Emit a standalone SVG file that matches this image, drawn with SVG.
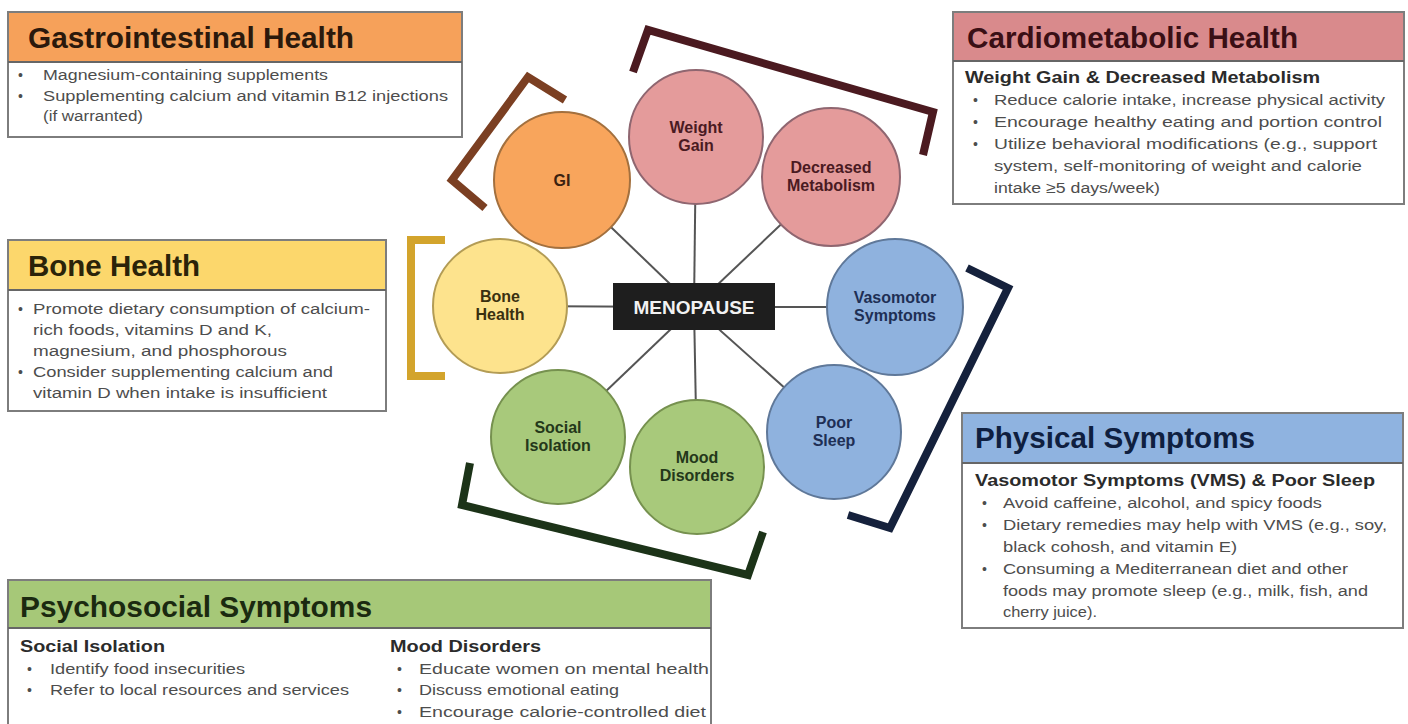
<svg xmlns="http://www.w3.org/2000/svg" width="1408" height="724" viewBox="0 0 1408 724">
<defs>
<style>
.box{fill:#ffffff;stroke:#7d7d7d;stroke-width:2}
.sep{stroke:#666;stroke-width:2}
.title{font-family:"Liberation Sans",Arial,sans-serif;font-weight:bold;font-size:29px}
.sub{font-family:"Liberation Sans",Arial,sans-serif;font-weight:bold;font-size:16px;fill:#2b2b2b}
.body{font-family:"Liberation Sans",Arial,sans-serif;font-size:15.5px;fill:#4d4d4d}
.bul{font-family:"Liberation Sans",Arial,sans-serif;font-size:14px;fill:#4d4d4d}
.clab{font-family:"Liberation Sans",Arial,sans-serif;font-weight:bold;font-size:16px;text-anchor:middle}
.conn{stroke:#555;stroke-width:2;fill:none}
.brk{fill:none;stroke-width:8;stroke-linejoin:miter;stroke-linecap:butt}
.circ{stroke-width:2}
</style>
</defs>
<rect width="1408" height="724" fill="#ffffff"/>

<!-- connectors -->
<g id="connectors">
<line class="conn" x1="694" y1="307" x2="562" y2="180"/>
<line class="conn" x1="694" y1="307" x2="696" y2="137"/>
<line class="conn" x1="694" y1="307" x2="831" y2="177"/>
<line class="conn" x1="694" y1="307" x2="500" y2="306"/>
<line class="conn" x1="694" y1="307" x2="895" y2="307"/>
<line class="conn" x1="694" y1="307" x2="558" y2="437"/>
<line class="conn" x1="694" y1="307" x2="697" y2="467"/>
<line class="conn" x1="694" y1="307" x2="834" y2="432"/>
</g>

<!-- brackets -->
<g id="brackets">
<polyline class="brk" stroke="#7b3f22" points="565,100 528,77 452,180 485,208"/>
<polyline class="brk" stroke="#4b1a20" points="633,72 648,30 933,112 923,155"/>
<polyline class="brk" stroke="#d3a42c" points="445,240 411,240 411,376 445,376"/>
<polyline class="brk" stroke="#15213c" points="967,268 1008,288 890,528 848,515"/>
<polyline class="brk" stroke="#1c3318" points="470,463 462,505 748,575 763,532"/>
</g>

<!-- center -->
<g id="menopause">
<rect x="613" y="283" width="162" height="47" fill="#1e1e1e"/>
<text x="694" y="314" text-anchor="middle" font-family="'Liberation Sans',Arial,sans-serif" font-weight="bold" font-size="19" fill="#f2f2f2">MENOPAUSE</text>
</g>

<g id="c-gi">
<circle class="circ" cx="562" cy="180" r="68" fill="#f8a55c" stroke="#a3703e"/>
<text class="clab" x="562" y="186" fill="#3b2210">GI</text>
</g>
<g id="c-weight">
<circle class="circ" cx="696" cy="137" r="67" fill="#e49b9b" stroke="#8f6670"/>
<text class="clab" x="696" y="133" fill="#4a1a22">Weight</text>
<text class="clab" x="696" y="151" fill="#4a1a22">Gain</text>
</g>
<g id="c-metab">
<circle class="circ" cx="831" cy="177" r="69" fill="#e49b9b" stroke="#8f6670"/>
<text class="clab" x="831" y="173" fill="#4a1a22">Decreased</text>
<text class="clab" x="831" y="191" fill="#4a1a22">Metabolism</text>
</g>
<g id="c-bone">
<circle class="circ" cx="500" cy="306" r="67" fill="#fde38d" stroke="#b39c55"/>
<text class="clab" x="500" y="302" fill="#3a3010">Bone</text>
<text class="clab" x="500" y="320" fill="#3a3010">Health</text>
</g>
<g id="c-vaso">
<circle class="circ" cx="895" cy="307" r="68" fill="#8fb2de" stroke="#5f7899"/>
<text class="clab" x="895" y="303" fill="#1e2f55">Vasomotor</text>
<text class="clab" x="895" y="321" fill="#1e2f55">Symptoms</text>
</g>
<g id="c-social">
<circle class="circ" cx="558" cy="437" r="67" fill="#a8c97b" stroke="#76914f"/>
<text class="clab" x="558" y="433" fill="#24381a">Social</text>
<text class="clab" x="558" y="451" fill="#24381a">Isolation</text>
</g>
<g id="c-mood">
<circle class="circ" cx="697" cy="467" r="67" fill="#a8c97b" stroke="#76914f"/>
<text class="clab" x="697" y="463" fill="#24381a">Mood</text>
<text class="clab" x="697" y="481" fill="#24381a">Disorders</text>
</g>
<g id="c-sleep">
<circle class="circ" cx="834" cy="432" r="67" fill="#8fb2de" stroke="#5f7899"/>
<text class="clab" x="834" y="428" fill="#1e2f55">Poor</text>
<text class="clab" x="834" y="446" fill="#1e2f55">Sleep</text>
</g>

<!-- Gastrointestinal box -->
<g id="box-gi">
<rect class="box" x="8" y="12" width="454" height="125"/>
<rect x="9" y="13" width="452" height="49" fill="#f6a15a"/>
<line class="sep" x1="8" y1="62" x2="462" y2="62"/>
<text class="title" x="28" y="48" fill="#2b190c" textLength="326" lengthAdjust="spacingAndGlyphs">Gastrointestinal Health</text>
<text class="bul" x="18" y="80">•</text>
<text class="body" x="43" y="80" textLength="285" lengthAdjust="spacingAndGlyphs">Magnesium-containing  supplements</text>
<text class="bul" x="18" y="101">•</text>
<text class="body" x="43" y="101" textLength="405" lengthAdjust="spacingAndGlyphs">Supplementing  calcium and vitamin B12 injections</text>
<text class="body" x="43" y="121" textLength="100" lengthAdjust="spacingAndGlyphs">(if warranted)</text>
</g>

<!-- Cardiometabolic box -->
<g id="box-cardio">
<rect class="box" x="953" y="12" width="451" height="192"/>
<rect x="954" y="13" width="449" height="48" fill="#d98a8c"/>
<line class="sep" x1="953" y1="61" x2="1404" y2="61"/>
<text class="title" x="967" y="48" fill="#3a0f15" textLength="331" lengthAdjust="spacingAndGlyphs">Cardiometabolic Health</text>
<text class="sub" x="965" y="83" textLength="355" lengthAdjust="spacingAndGlyphs">Weight Gain &amp; Decreased Metabolism</text>
<text class="bul" x="973" y="105">•</text>
<text class="body" x="994" y="105" textLength="391" lengthAdjust="spacingAndGlyphs">Reduce calorie intake, increase physical activity</text>
<text class="bul" x="973" y="127">•</text>
<text class="body" x="994" y="127" textLength="388" lengthAdjust="spacingAndGlyphs">Encourage healthy eating and portion control</text>
<text class="bul" x="973" y="149">•</text>
<text class="body" x="994" y="149" textLength="383" lengthAdjust="spacingAndGlyphs">Utilize behavioral modifications (e.g., support</text>
<text class="body" x="994" y="171" textLength="368" lengthAdjust="spacingAndGlyphs">system, self-monitoring of weight and calorie</text>
<text class="body" x="994" y="193" textLength="166" lengthAdjust="spacingAndGlyphs">intake ≥5 days/week)</text>
</g>

<!-- Bone box -->
<g id="box-bone">
<rect class="box" x="8" y="240" width="378" height="171"/>
<rect x="9" y="241" width="376" height="49" fill="#fcd76c"/>
<line class="sep" x1="8" y1="290" x2="386" y2="290"/>
<text class="title" x="28" y="276" fill="#2b2309" textLength="172" lengthAdjust="spacingAndGlyphs">Bone Health</text>
<text class="bul" x="18" y="314">•</text>
<text class="body" x="33" y="314" textLength="337" lengthAdjust="spacingAndGlyphs">Promote dietary consumption of calcium-</text>
<text class="body" x="33" y="335" textLength="239" lengthAdjust="spacingAndGlyphs">rich foods, vitamins D and K,</text>
<text class="body" x="33" y="356" textLength="254" lengthAdjust="spacingAndGlyphs">magnesium,  and phosphorous</text>
<text class="bul" x="18" y="377">•</text>
<text class="body" x="33" y="377" textLength="300" lengthAdjust="spacingAndGlyphs">Consider supplementing  calcium and</text>
<text class="body" x="33" y="398" textLength="294" lengthAdjust="spacingAndGlyphs">vitamin D when intake is insufficient</text>
</g>

<!-- Physical box -->
<g id="box-physical">
<rect class="box" x="962" y="413" width="441" height="215"/>
<rect x="963" y="414" width="439" height="49" fill="#8fb3e0"/>
<line class="sep" x1="962" y1="463" x2="1403" y2="463"/>
<text class="title" x="975" y="448" fill="#0f1f40" textLength="280" lengthAdjust="spacingAndGlyphs">Physical Symptoms</text>
<text class="sub" x="975" y="486" textLength="400" lengthAdjust="spacingAndGlyphs">Vasomotor Symptoms  (VMS) &amp; Poor Sleep</text>
<text class="bul" x="982" y="508">•</text>
<text class="body" x="1003" y="508" textLength="319" lengthAdjust="spacingAndGlyphs">Avoid caffeine, alcohol, and spicy foods</text>
<text class="bul" x="982" y="530">•</text>
<text class="body" x="1003" y="530" textLength="384" lengthAdjust="spacingAndGlyphs">Dietary remedies may help with VMS (e.g., soy,</text>
<text class="body" x="1003" y="552" textLength="234" lengthAdjust="spacingAndGlyphs">black cohosh, and vitamin E)</text>
<text class="bul" x="982" y="574">•</text>
<text class="body" x="1003" y="574" textLength="345" lengthAdjust="spacingAndGlyphs">Consuming a Mediterranean diet and other</text>
<text class="body" x="1003" y="596" textLength="365" lengthAdjust="spacingAndGlyphs">foods may promote sleep (e.g., milk, fish, and</text>
<text class="body" x="1003" y="617" textLength="94" lengthAdjust="spacingAndGlyphs">cherry juice).</text>
</g>

<!-- Psychosocial box -->
<g id="box-psycho">
<rect class="box" x="8" y="580" width="703" height="160"/>
<rect x="9" y="581" width="701" height="47" fill="#a6c878"/>
<line class="sep" x1="8" y1="628" x2="711" y2="628"/>
<text class="title" x="20" y="617" fill="#1b2a10" textLength="352" lengthAdjust="spacingAndGlyphs">Psychosocial Symptoms</text>
<text class="sub" x="20" y="652" textLength="145" lengthAdjust="spacingAndGlyphs">Social Isolation</text>
<text class="bul" x="27" y="674">•</text>
<text class="body" x="50" y="674" textLength="195" lengthAdjust="spacingAndGlyphs">Identify food insecurities</text>
<text class="bul" x="27" y="695">•</text>
<text class="body" x="50" y="695" textLength="299" lengthAdjust="spacingAndGlyphs">Refer to local resources and services</text>
<text class="sub" x="390" y="652" textLength="151" lengthAdjust="spacingAndGlyphs">Mood Disorders</text>
<text class="bul" x="397" y="674">•</text>
<text class="body" x="419" y="674" textLength="290" lengthAdjust="spacingAndGlyphs">Educate women on mental health</text>
<text class="bul" x="397" y="695">•</text>
<text class="body" x="419" y="695" textLength="200" lengthAdjust="spacingAndGlyphs">Discuss emotional eating</text>
<text class="bul" x="397" y="717">•</text>
<text class="body" x="419" y="717" textLength="287" lengthAdjust="spacingAndGlyphs">Encourage calorie-controlled diet</text>
</g>
</svg>
